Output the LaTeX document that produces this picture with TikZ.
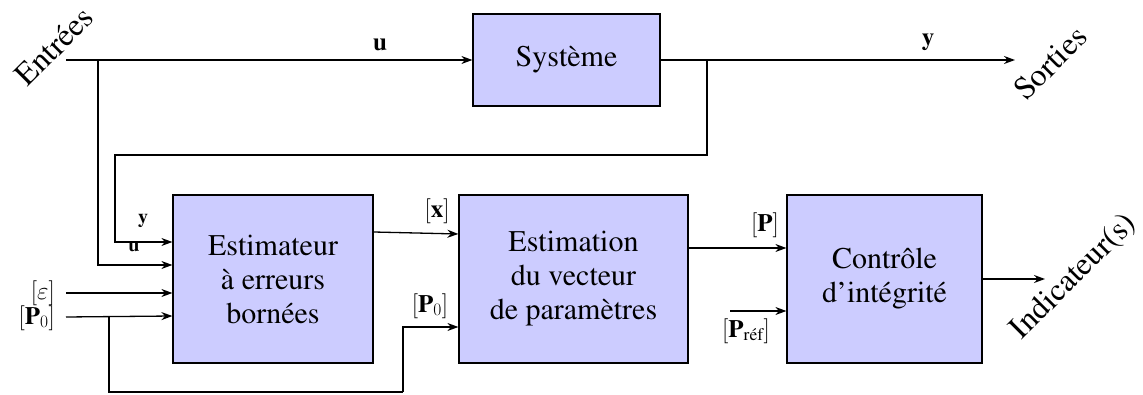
\documentclass[tikz,border=0pt]{standalone}
\usepackage{fix-cm}
\usepackage[T1]{fontenc}
\usepackage{times}
\usepackage{amsmath}
\usetikzlibrary{arrows.meta}
\newcommand{\bv}[1]{\textbf{#1}}
\begin{document}
\begin{tikzpicture}[x=1pt,y=-1pt,
  blk/.style={draw, fill=blue!20, line width=1.2pt, inner sep=0pt, align=center,
              font=\fontsize{30}{34}\selectfont},
  wire/.style={line width=1.3pt},
  arr/.style={wire,-{Stealth[length=11pt,width=8pt]}},
  lbl/.style={font=\fontsize{25}{30}\selectfont, inner sep=1pt},
  slbl/.style={font=\fontsize{20}{24}\selectfont, inner sep=1pt},
  big/.style={font=\fontsize{32}{38}\selectfont, inner sep=1pt, rotate=45}]
\useasboundingbox (0,0) rectangle (1143,395);

% blocks
\node[blk, minimum width=187pt, minimum height=92pt] (sys) at (566.5,60) {Système};
\node[blk, minimum width=200pt, minimum height=168pt] (est) at (273,279) {Estimateur\\à erreurs\\bornées};
\node[blk, minimum width=229pt, minimum height=168pt] (vec) at (573.5,279) {Estimation\\du vecteur\\de paramètres};
\node[blk, minimum width=195pt, minimum height=168pt] (ctl) at (884.5,279) {Contrôle\\d'intégrité};

% outer labels
\node[big] (entrees) at (54,46) {Entrées};
\node[big] (sorties) at (1050,63) {Sorties};
\node[big] (indic) at (1074,277) {Indicateur(s)};

% coordinates
\coordinate (in) at (66,60);
\coordinate (out) at (1015,60);
\coordinate (ju) at (98,60);
\coordinate (jy) at (707,60);
\coordinate (cy) at (115,155);
\coordinate (eps) at (66,293);
\coordinate (p0) at (66,317);
\coordinate (jp) at (109,316.6);
\coordinate (cp) at (403,392);
\coordinate (pref) at (730,311);
\coordinate (ind) at (1045,279);

% top line
\draw[arr] (in) -- (sys.west);
\draw[arr] (sys.east) -- (out);

% feedback to estimator
\draw[arr] (ju) |- ([yshift=14pt]est.west);
\draw[arr] (jy) |- (cy) |- ([yshift=37pt]est.west);
\draw[arr] (eps) -- ([yshift=-14pt]est.west);
\draw[arr] (p0) -- ([yshift=-37pt]est.west);
\draw[wire] (jp) |- (cp);
\draw[arr] (cp) |- ([yshift=-48pt]vec.west);

% between blocks
\draw[arr] ([yshift=47pt]est.east) -- ([yshift=45pt]vec.west);
\draw[arr] ([yshift=31pt]vec.east) -- ([yshift=31pt]ctl.west);
\draw[arr] (pref) -- ([yshift=-32pt]ctl.west);
\draw[arr] (ctl.east) -- (ind);

% labels
\node[lbl] (lu) at (380,45) {\bv{u}};
\node[lbl] (ly) at (928,42) {\bv{y}};
\node[slbl] (ly2) at (143,221) {\bv{y}};
\node[slbl] (lu2) at (134,247) {\bv{u}};
\node[lbl, anchor=east] (leps) at (56,293) {$[\varepsilon]$};
\node[lbl, anchor=east] (lp0) at (56,318) {$[\text{\bv{P}}_0]$};
\node[lbl] (lx) at (437,211) {$[\text{\bv{x}}]$};
\node[lbl] (lp0b) at (430,306) {$[\text{\bv{P}}_0]$};
\node[lbl] (lp) at (765,225) {$[\text{\bv{P}}]$};
\node[lbl] (lpref) at (746,331) {$[\text{\bv{P}}_{\text{réf}}]$};
\end{tikzpicture}
\end{document}
